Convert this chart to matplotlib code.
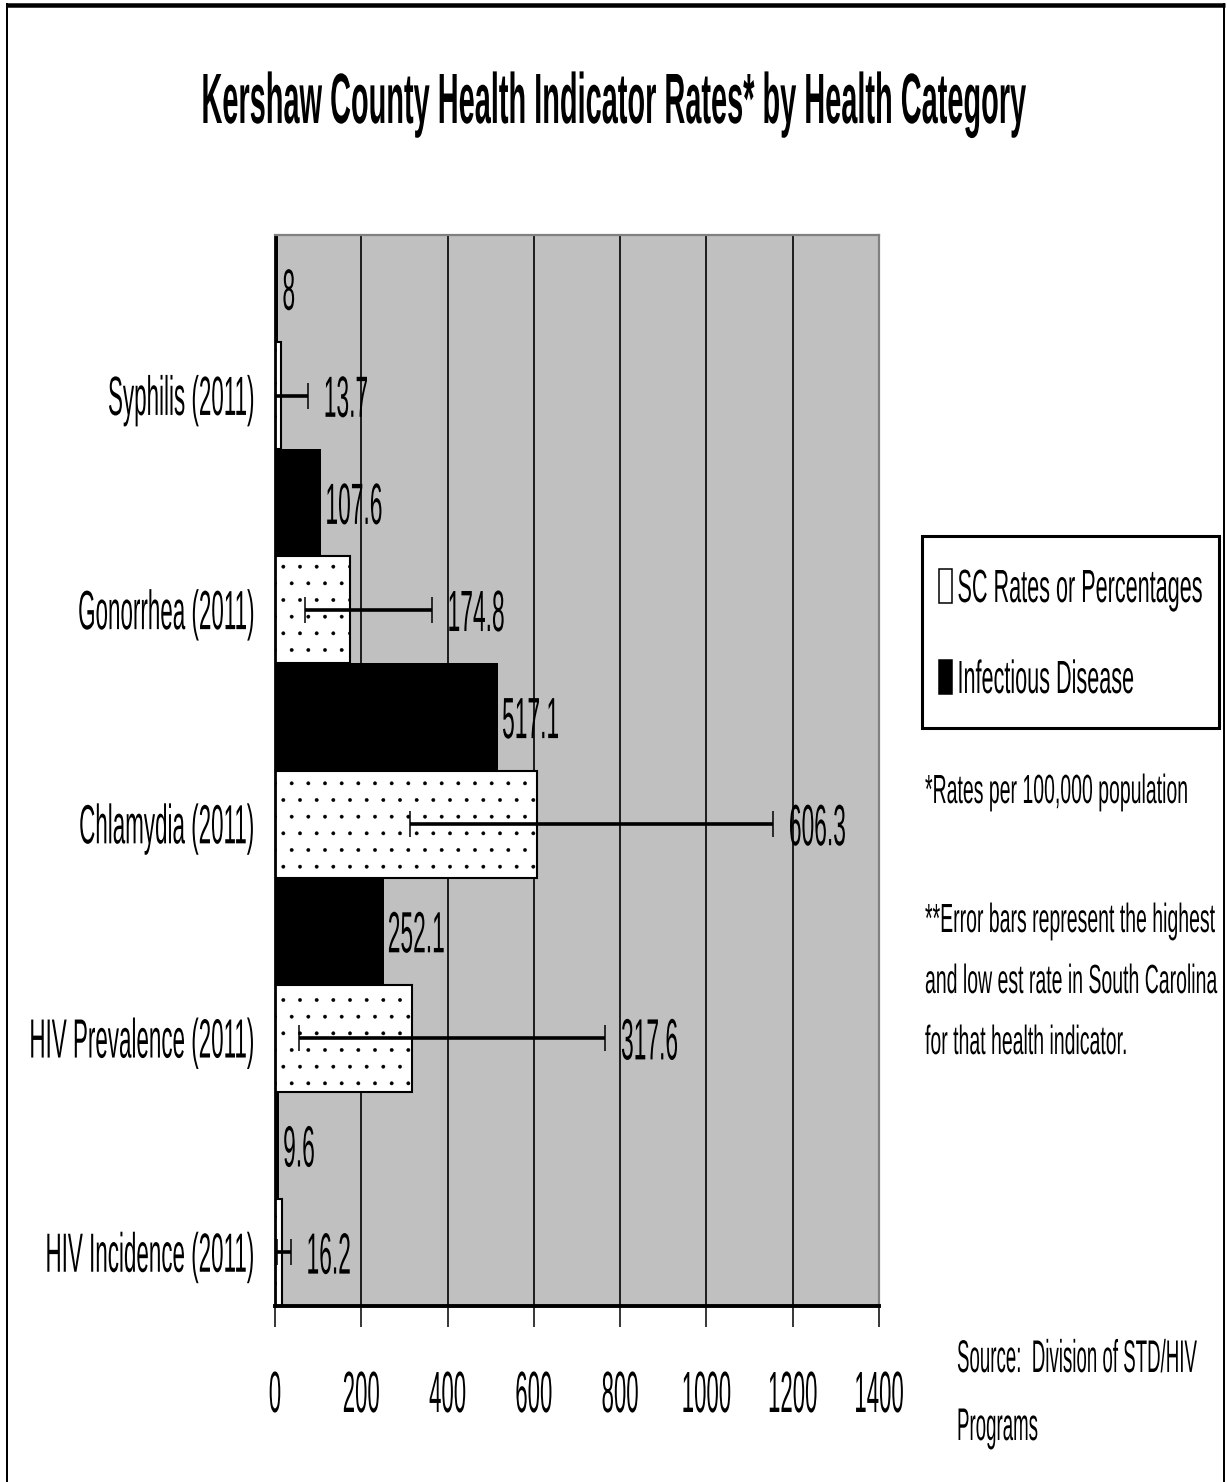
import numpy as np
import matplotlib
matplotlib.use("Agg")
import matplotlib.pyplot as plt
from matplotlib import font_manager as fm
from matplotlib.lines import Line2D
from matplotlib.patches import Patch, Rectangle
from matplotlib.legend_handler import HandlerPatch
from matplotlib.patheffects import AbstractPathEffect
from matplotlib.textpath import TextPath
from matplotlib.transforms import Affine2D

# ---- data -------------------------------------------------------------
categories = ["Syphilis (2011)", "Gonorrhea (2011)", "Chlamydia (2011)",
              "HIV Prevalence (2011)", "HIV Incidence (2011)"]
county_rate = [8, 107.6, 517.1, 252.1, 9.6]          # Infectious Disease
state_rate = [13.7, 174.8, 606.3, 317.6, 16.2]       # SC Rates or Percentages
state_low = [0, 70, 313, 56, 4]                      # lowest county rate in SC
state_high = [76, 363, 1154, 765, 36]                # highest county rate in SC
x_ticks = [0, 200, 400, 600, 800, 1000, 1200, 1400]
series_names = ["SC Rates or Percentages", "Infectious Disease"]
title = "Kershaw County Health Indicator Rates* by Health Category"
notes = ["*Rates per 100,000 population",
         "**Error bars represent the highest",
         "and low est rate in South Carolina",
         "for that health indicator."]
source = ["Source:  Division of STD/HIV", "Programs"]

# ---- fonts ------------------------------------------------------------
def first_available(names):
    for name in names:
        try:
            fm.findfont(fm.FontProperties(family=name), fallback_to_default=False)
            return name
        except ValueError:
            continue
    return "DejaVu Sans"


FAMILY = first_available(["Liberation Sans Narrow", "Arial Narrow",
                          "Liberation Sans", "Arial"])

W, H, DPI = 1227, 1482, 100
PT = 72 / DPI                      # points per pixel
fig = plt.figure(figsize=(W / DPI, H / DPI), dpi=DPI)
renderer = fig.canvas.get_renderer()


def fx(x):
    return x / W


def fy(y):
    return 1 - y / H


def fprops(weight="normal", size=100):
    return fm.FontProperties(family=FAMILY, weight=weight, size=size)


def size_for(s, width_px, weight="normal"):
    """Point size giving string s the requested ink width in pixels."""
    w, _, _ = renderer.get_text_width_height_descent(s, fprops(weight), ismath=False)
    return 100 * width_px / w


class TallGlyphs(AbstractPathEffect):
    """Stretch glyph outlines vertically, then shift them up or down."""

    def __init__(self, sy, shift):
        super().__init__()
        self._stretch = Affine2D().scale(1, sy).translate(0, shift)

    def draw_path(self, renderer, gc, tpath, affine, rgbFace=None):
        renderer.draw_path(gc, tpath, self._stretch + affine, rgbFace)


_caps = {}


def cap_units(weight):
    if weight not in _caps:
        _caps[weight] = TextPath((0, 0), "H", size=100,
                                 prop=fprops(weight)).get_extents().height
    return _caps[weight]


def tall(t, cap_px, anchor=0.0, bottom_px=None):
    """Give text t a cap height of cap_px.

    anchor keeps a point of the cap height fixed (0 baseline, .5 middle,
    1 top); bottom_px instead puts the cap bottom that many pixels above
    the baseline.
    """
    cu = cap_units(t.get_fontweight())
    unit_px = t.get_fontsize() / PT / 100
    sy = cap_px / (cu * unit_px)
    if bottom_px is None:
        shift = anchor * cu * (1 - sy)
    else:
        shift = bottom_px / unit_px
    t.set_path_effects([TallGlyphs(sy, shift)])


# ---- axes -------------------------------------------------------------
ax = fig.add_axes([fx(275), fy(1306), (879 - 275) / W, (1306 - 235) / H])
ax.set_facecolor("#C0C0C0")

n = len(categories)
idx = np.arange(n)
y_county = idx - 0.25
y_state = idx + 0.25

plt.rcParams["hatch.linewidth"] = 0.3
ax.barh(y_county, county_rate, height=0.5, color="black", edgecolor="black",
        linewidth=0, zorder=2)
ax.barh(y_state, state_rate, height=0.5, color="white", edgecolor="black",
        linewidth=1.5, hatch=".", zorder=2)

state = np.array(state_rate)
xerr = [state - np.array(state_low), np.array(state_high) - state]
ax.errorbar(state, y_state, xerr=xerr, fmt="none", ecolor="black",
            elinewidth=2.6, capsize=9.4, capthick=1.1, zorder=3)

ax.set_xlim(0, 1400)
ax.set_ylim(n - 0.5, -0.5)
ax.set_axisbelow(True)
ax.xaxis.grid(True, color="black", linewidth=1.2)
ax.yaxis.grid(False)

for side in ("top", "right"):
    ax.spines[side].set_color("#808080")
    ax.spines[side].set_linewidth(1.6)
ax.spines["left"].set_color("black")
ax.spines["left"].set_linewidth(2.0)
ax.spines["bottom"].set_color("black")
ax.spines["bottom"].set_linewidth(2.8)

ax.tick_params(axis="x", direction="out", length=15, width=1.1, pad=32,
               color="black")
ax.tick_params(axis="y", length=0, pad=14.4)

xt_fs = size_for("200", 37)
ax.set_xticks(x_ticks, labels=[str(v) for v in x_ticks])
for t in ax.get_xticklabels():
    t.set_fontsize(xt_fs)
    t.set_family(FAMILY)
    tall(t, 40, anchor=1.0)

yt_fs = size_for("HIV Prevalence (2011)", 225)
ax.set_yticks(y_state, labels=categories)
for t in ax.get_yticklabels():
    t.set_fontsize(yt_fs)
    t.set_family(FAMILY)
    tall(t, 38, anchor=0.5)

# ---- value labels -----------------------------------------------------
val_fs = size_for("174.8", 57)
for yv, v in zip(y_county, county_rate):
    t = ax.annotate(f"{v:g}", xy=(v, yv), xytext=(4 * PT, 0),
                    textcoords="offset points", ha="left", va="center_baseline",
                    fontsize=val_fs, family=FAMILY, zorder=4)
    tall(t, 40, anchor=0.5)
for yv, v, hi in zip(y_state, state_rate, state_high):
    t = ax.annotate(f"{v:g}", xy=(hi, yv), xytext=(16 * PT, 0),
                    textcoords="offset points", ha="left", va="center_baseline",
                    fontsize=val_fs, family=FAMILY, zorder=4)
    tall(t, 40, anchor=0.5)

# ---- legend -----------------------------------------------------------
leg_fs = size_for(series_names[0], 245)
fs_px = leg_fs / PT
LEG_PAD = 16.5        # frame padding, px
ROW_H = 68            # row height, px
ROW_PITCH = 91        # baseline to baseline, px
CAP_TOP_GAP = 34      # frame top to first label's cap top, px
LEG_CAP = 32          # label cap height, px

handle_h = (ROW_H / fs_px - 0.245) / 0.65          # legend handleheight
above = fs_px * (0.3 * handle_h + 0.49)            # row extent above baseline
cap_bottom = above + LEG_PAD - CAP_TOP_GAP - LEG_CAP


def key_box(legend, orig_handle, xdescent, ydescent, width, height, fontsize):
    w, h = 13 * PT, (LEG_CAP + 2) * PT
    return Rectangle((-xdescent + (width - w) / 2, (cap_bottom - 1) * PT), w, h)


handles = [Patch(facecolor="white", edgecolor="black", linewidth=1.1),
           Patch(facecolor="black", edgecolor="black", linewidth=1.1)]
leg = fig.legend(handles, series_names, loc="upper left",
                 bbox_to_anchor=(fx(922), fy(536)), bbox_transform=fig.transFigure,
                 borderaxespad=0, prop={"family": FAMILY, "size": leg_fs},
                 handlelength=14 / fs_px, handleheight=handle_h,
                 handletextpad=5 / fs_px,
                 labelspacing=(ROW_PITCH - ROW_H) / fs_px,
                 borderpad=LEG_PAD / fs_px, frameon=True, fancybox=False,
                 edgecolor="black", framealpha=1,
                 handler_map={Patch: HandlerPatch(patch_func=key_box)})
leg.get_frame().set_linewidth(2.2)
for t in leg.get_texts():
    tall(t, LEG_CAP, bottom_px=cap_bottom)

# ---- title, notes, source ---------------------------------------------
title_fs = size_for(title, 825, "bold")
t = fig.text(fx(612.5), fy(123), title, ha="center", va="baseline",
             fontsize=title_fs, fontweight="bold", family=FAMILY)
tall(t, 49)

note_fs = size_for(notes[1], 290)
for line, base in zip(notes, [803, 932, 993, 1054]):
    t = fig.text(fx(925), fy(base), line, ha="left", va="baseline",
                 fontsize=note_fs, family=FAMILY)
    tall(t, 28)

src_fs = size_for(source[0], 240)
for line, base in zip(source, [1372, 1440]):
    t = fig.text(fx(957), fy(base), line, ha="left", va="baseline",
                 fontsize=src_fs, family=FAMILY)
    tall(t, 31.5)

# ---- outer frame (open at the bottom edge) ------------------------------
frame_lines = [
    ([6, 1225], [5, 5], 4.5),        # top
    ([7, 7], [3, 1482], 2.0),        # left
    ([1224, 1224], [3, 1482], 2.0),  # right
]
for xs, ys, lw in frame_lines:
    fig.add_artist(Line2D([fx(v) for v in xs], [fy(v) for v in ys],
                          transform=fig.transFigure, color="black",
                          linewidth=lw * PT, solid_capstyle="butt"))

fig.savefig("out.png", dpi=DPI)
